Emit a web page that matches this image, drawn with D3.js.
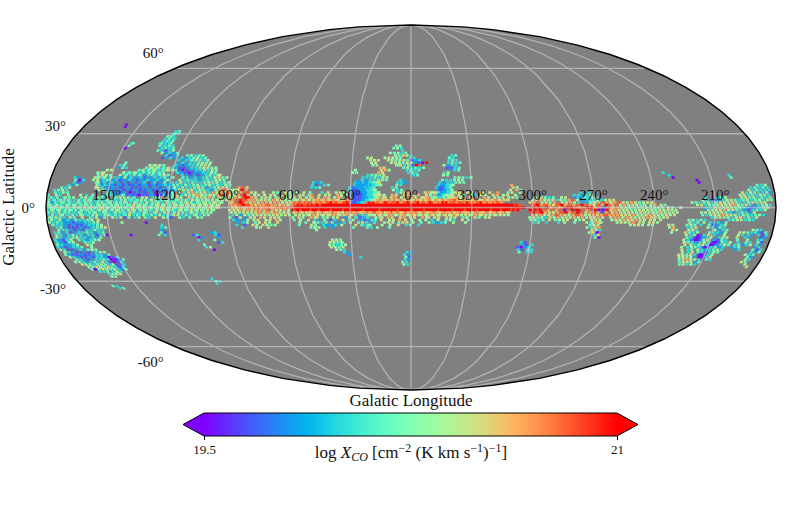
<!DOCTYPE html>
<html>
<head>
<meta charset="utf-8">
<script src="https://cdn.jsdelivr.net/npm/d3@7"></script>
<style>
body { margin: 0; background: #fff; }
text { font-family: "Liberation Serif", serif; fill: #111; }
</style>
</head>
<body>
<div id="g"></div>
<script>
// each row is [latitude, first longitude, level codes]
// one code per 1 deg of longitude going right on the map, "." = no data
var xcoLevels = [19.5, 19.67, 19.83, 20.0, 20.17, 20.33, 20.5, 20.67, 20.83, 21.0];

var planeLeft = [
  [5, 179, "34...5.3...4.....5..3..4....3...5.....4.......3.4...5...4.6..3.....5.....4...6...5...5...4."],
  [4, 179, "4.53.4..35.4.5...4.6.34..5.4.3...45.6.4.5.34...5.6..3.45.7...54.6.5...6.4.5.6.5.7.4..6.5.6"],
  [3, 179, "4.34.34.4.53.3.4.34.54.3.43.35.4.33.4.5.34.34.5.4.36.4.34.54.3.45.4.53.6.45.4.54.6.45.5.6"],
  [2, 179, "3452.43.54.34.3.54.35.43.34.53.45.34.4.54.3.54.43.5.34.54.3.64.54.35.46.53.54.65.4.56.45"],
  [1, 179, "454.35.43.54.45.34.54.63.45.54.35.45.43.54.6.45.54.34.56.45.34.65.45.64.56.45.56.65.56"],
  [0, 179, "34545.45.54.35.64.5.45.54.56.45.45.64.54.56.45.54.65.45.56.45.54.65.45.64.56.54.65.56"],
  [-1, 179, "43.54.45.34.54.4.35.44.53.46.54.35.45.43.5.64.35.54.43.5.45.64.53.45.54.6.45.54.6.45"],
  [-2, 179, "34.43.5.34.4.33.54.3.4.45.3.54.3.35.4.43.5.4.33.54.3.46.3.5.4.34.6.4.3.54.4.35.4.5"],
  [-3, 179, "3.4.3.45.33.4.3.54.33.4.5.3.4.53.4.3.34.6.3.43.5.3.4.3.5.3.4.36.5.3.4.3.45.3.4.5"],
  [-4, 179, "3.54.5.4.3..5.4...6...43.5.2.4...5.3.6.1.4..3.5..4.3..6...5.4.1...5.3..4...5.4.."]
];
var cepheus = [
  [17, 131, "5.46.5.4"],
  [16, 133, "4.56.45.34.6"],
  [15, 153, "5.6"],
  [15, 137, "4.5.34.45.3.4.56.5"],
  [14, 156, "5.46"],
  [14, 143, "5.34.45.3.4.34.5.34.4"],
  [13, 156, "4.6.5.4"],
  [13, 145, "5.34.3.4.34.2.3.43.34.5.4"],
  [12, 158, "645.45.26.3.32.5.23.2.23.12.2.3.23.4.2.5"],
  [11, 157, "5.6.23.43.2.31.2.23.2.12.2.3.22.3.2.35"],
  [10, 156, "45.23.2.32.2.12.1.2.12.23.1.23.12.4.2.3"],
  [9, 156, "53.23.2.21.2.1.21.12.1.22.1.2.12.23.2.4"],
  [8, 155, "56.3.2.12.2.11.2.21.1.12.2.1.2.21.2.3.24"],
  [7, 154, "5.63.2.21.2.11.21.2.11.12.21.1.2.1.2.2.3"],
  [6, 150, "43.2.21.2.10.1.21.11.2.10.1.2.12.1.23"],
  [5, 152, "...4.3.2.3.4.1.21.10.1.1.2.10.1.21.3.2"]
];
var cepheusFlare = [
  [31, 127, "3.4"],
  [30, 128, "34.3"],
  [29, 129, "4.53"],
  [28, 130, "3.4.33"],
  [27, 131, "3.43.4"],
  [26, 131, "34.3.34"],
  [25, 131, "4.33.4.3"],
  [24, 130, "3.4.3.4"],
  [23, 130, "4.3.1.3.5"],
  [22, 128, "5.2.3.2.4"],
  [21, 127, ".3.1.2.3."],
  [21, 115, "4.5.3.4.5"],
  [20, 126, "1.2.3.2"],
  [20, 116, "3.2.3.4.5.3.4"],
  [19, 118, "3.2.3.34.5.4.3.5"],
  [18, 118, "2.3.2.3.3.4.5.4.5"],
  [17, 118, "3.2.12.3.3.4.5.6.5"],
  [16, 120, "3.2.1.1.2.3.3.4.5.6.4.5"],
  [15, 118, "41.0.1.2.23.3.4.3.5.4"],
  [14, 116, "3.2.1.01.2.2.3.3.5.4"],
  [13, 114, "3.2.1.2.1.2.3.4.3.56"],
  [12, 114, "4.3.2.3.2.3.4.3.5.6.4.5"],
  [11, 114, "5.3.4.3.3.2.3.4.3.5.5.4"],
  [10, 116, "3.5.3.3.4.3.3.4.5.4.5.3.4.5"],
  [9, 116, "4.3.5.3.4.5.3.4.5.3.4.3.5.4"],
  [8, 116, "5.3.4.3.3.4.5.4.2.3.4.5.6.5"],
  [7, 116, "3.5.6.4.6.3.5.4.3.2.4.7.8.6.5.6"],
  [6, 118, "5.7.5.3.6.7.4.5.6.3.7.5.7.6.8.7.8"],
  [5, 118, "4.5.6.3.5.4.6.7.5.4.6.5.7.8.7.8.6"]
];
var cygnus = [
  [8, 84, "7.8.6"],
  [7, 88, ".5.6.9.7"],
  [6, 88, "5.6.7..8.6.5...6....5.4...6.5.."],
  [5, 88, "6.5.7.89.7..5.6..5..6.5...6.5.6"],
  [4, 88, "5.7.6.899.7.6..5.6.5..5.6..5.6"],
  [3, 88, "7.8.98.87.7.6.5.6.5.7.6.6.5.5.4"],
  [2, 88, "76.8.9987.6.7.6.7.7.6.7.7.5.6.6"],
  [1, 88, "7.7.8.9.8.7.6.7.7.8.7.7.6.7.5.7"],
  [0, 88, "6767.777877878778787778788788"],
  [-1, 88, "6.6.57.6.7.6.7.7.7.8.7.6.6.7.5"],
  [-2, 88, "5.6.5.6.5.6.6.7.6.7.6.7.6.5.6"],
  [-3, 88, "3.5.2.5.4.5.6.5.6.5.6.6.5.6.5"],
  [-4, 88, "4..1.5..2.5.6..7.6..6.6.5"],
  [-5, 88, ".3.2..2.5..5.6...5.6..7.5"],
  [-6, 88, "..2..3.5...4.6..6.5...6."],
  [-7, 88, "...3...1...6.5..6.5.4.5.."],
  [-8, 88, ".....3......5.5...6.."]
];
var planeInner = [
  [6, 57, "5...6..4.....3..6...5.6.4..5..7....6.5...5........3.5.6.7.......6.7.5.6..5.3.7...6...6..5..7.5..6...7....4.6...5"],
  [5, 57, "5..6.5..47...6..5.6...7.5..6.7...5.6..4.8..6.5...7.6...6.7..5.7...6.4..5.6...4.5..6.4...5.3..6.5...6.7..5.6...5"],
  [4, 57, "6..6..5.67..6..7.6..5.76..7.5..67...7..6..7.56..6.7..5.7..7.6..6.7..75..7.5..6.6..5.7..67..6..7.6..5.4.6..5.6.4"],
  [3, 57, "65.76.75.677.67.76.776.57.76.767.677.67.77.676.77.67.76.776.776.67.76.767.67.78.776.76.67.766.76.67.76.576"],
  [2, 57, "7878.7878.7787877889788778898878878878989787789878889778898788978878987787989788878887987878897787787887"],
  [1, 57, "8898988989899899999999999999999999999999999999999999999999999999999999999999999999999999999999999999999999999898"],
  [0, 57, "999999999999999999999999999999999999999999999999999999999999999999999999999999999999999999999999999999999999999999"],
  [-1, 57, "9899899998999899999899999899999999989999999899999999899999989999989999998999999899999899999899999989999899998989"],
  [-2, 57, "67.76.6767.767.7677.77676.77877.7677.77.8777.677.77.767.7787.767.7677.7767.777.677.7767.67.7767.7677.767.66"],
  [-3, 57, "5.6.5.65.7.6.56.56.7.65.67.56.76.5.76.65.76.56.7.65.67.65.76.56.65.76.65.76.56.76.5.6.65.7.56.6.5.65.6.5.5"],
  [-4, 57, "5..6.5...7.56..4.5..5.6...2.6..67..5.6...5.46..7.6...6.7..5.6...7.56..5.6...6.5.6...4.5...6.4..5.6"],
  [-5, 57, "4..5...6..3.2..4..1.3...6..3.5...5.6..7.4..6...5.6..7..6..5...5..5..3..5...4.5.3...6..4"],
  [-6, 57, "..5..4...6...3.4..4.2.2.3..5...4.6...5.6....5.6.5..4.6.6..5...4...5.3.2.3.4...5.....5...."],
  [-7, 57, "...4.......5...3.2.2.3..5......6..4...5.....5...5...6...3.4...3..."],
  [-8, 57, "........4.4....3...2.........4...........5.....4....."]
];
var carina = [
  [4, -60, "..5..6.4.3.4...5.6.....4.5.5"],
  [3, -60, "5.6.7.5.5.6.3.5.4.7.8.5.7.6.5.6.4.3.5.6.6"],
  [2, -60, "6.7.8.5.6.4.7.8.5.6.7.5.8.7.6.5.4.7.8.7.6"],
  [1, -60, "88.9.7.8.7.6.8.9.7.8.7.8.9.8.7.6.8.7.9.8"],
  [0, -60, "8989.8.9.7.8.7.8.9.9.8.7.8.9.9.7.8.1.8.7.9"],
  [-1, -60, "99.989.8.7.8.7.8.0.8.9.99.8.7.8.9.0.0.9.8"],
  [-2, -60, "89.8.9.7.6.5.7.8.9.7.8.9.8.6.7.8.7.1.7.8"],
  [-3, -60, "7.6.7.5.6.7.8.7.6.5.7.8.7.5.6.7.6.7.8.7"],
  [-4, -60, "5.6.4.5.3.6.5.7.5.6.5.7.6.7.5.6.6.7.6"],
  [-5, -60, "4.5.3.4..6..4.5.5.6...5.4.6...5.6.5"],
  [-6, -60, ".3.4...3.....3..5....4.....5.3...6"],
  [6, -84, "3.2.3"],
  [5, -82, "3.3.2.3.4"],
  [4, -82, "2.2.3.3.4.5"],
  [3, -84, "2.2.3.3.5"],
  [2, -84, "3.2.2.4.6"],
  [-6, -90, "5.7.5"],
  [-7, -90, "4.5.6"],
  [-8, -88, "5.3.6.7"],
  [-9, -90, "6.5.3"],
  [-10, -90, "5.6.0"],
  [-11, -92, "3.6"],
  [-12, -92, "4.0"]
];
var vela = [
  [2, -100, "6.7.8.6.5.7.6.4.5.6.6"],
  [1, -100, "7.8.6.7.5.6.5.4.5..5.7..6.4"],
  [0, -100, "6.7.5.5.5.4.5.5.5.4.5.5.4..5.4...5"],
  [-1, -100, "6.7.6.5.6.4.5.6.5.6.5.4.6.5.6.5.6"],
  [-2, -100, "6.7.6.5.6.5.5.6.5.5.5.5.6.5.5.5.5"],
  [-3, -100, "7.7.6.6.6.7.5.5.6.7.6.5.5.6.5.6"],
  [-4, -100, "6.7.7.5.7.6.5.5.6.7.6.6.5.5.6"],
  [-5, -100, "5.6.5.7.6.6.7.6.5..6.5..6"],
  [-6, -100, "..5.6.5.6.7..6.5..6.6.5"],
  [-7, -108, "..5.6.6.5..5.4"],
  [-7, -129, "6.5"],
  [-8, -129, "5.7"],
  [-9, -130, "6.5"],
  [-10, -131, "5"],
  [14, -128, "3"],
  [13, -130, "3"],
  [12, -131, "0"]
];
var anticentre = [
  [13, -160, "3"],
  [12, -160, "4"],
  [11, -144, "0"],
  [10, -144, "0"],
  [9, -172, "4.3.5"],
  [8, -170, "3.4.3.4.3"],
  [7, -168, "5.3.4.3.3.3"],
  [6, -164, "6.3.5.4.3.3.4.2.3"],
  [5, -164, "5.6.3.4.3.5.4.3.4"],
  [4, -146, "3...1.3.4.5.......5.6.4.5.3.4.3.4.3"],
  [3, -144, "5.3.2.1.2.3.5.6.4.3.4.5.3.4.5.3.6.4"],
  [2, -140, "5.4.3.4.5.3.4.6.5.5.6.4.3.3.5.6.4.6.5"],
  [1, -142, "5.6.3.5.4.5.6.5.6.7.5.4.6.3.2.3.4.5.3"],
  [0, -146, "3.3.5.6.5.6.5.4.5.3.2.1.2.3.4.5"],
  [-1, -146, "2.4.5.6.5.7.5.6.4.3.2.1.3.4.3.5"],
  [-2, -144, "5.6.5.6.5.6.4.3.2.3.4.3.2.5"],
  [-3, -144, "4.3.5.6.5.7.6.5.6.3.5.4.3.4.5.3"],
  [-4, -150, "3.5.6.4.5.3.5.6.3.4.3.5"],
  [-5, -158, "3.4.5.6.3.4.3"]
];
var perseus = [
  [-5, 179, "4.5.3.5.2.3.2.4.3.3.4.5..6"],
  [-6, 179, "5.3.4.3.2.2.1.2.2.3.3.4.5"],
  [-7, 176, "4.3.3.2.1.2.1.1.2.3.3.4.5"],
  [-8, 175, "3.4.2.1.1.1.2.1.2.3.4.5.6"],
  [-9, 175, "4.3.3.2.1.2.1.3.3.4.3.3"],
  [-10, 176, "3.4.2.3.1.2.3.3.4.3.2.3.4"],
  [-11, 176, "4.3.2.3.4.3.3.2.3.3.1.3.5"],
  [-12, 177, "5.3.2.3.4.5.3.3.2.3.2.4"],
  [-13, 177, "3.2.1.3.5...4.3.2.3.4.5"],
  [-14, 177, "3.2.1.4.5.....4.3.5"],
  [-15, 178, "4.3.2.2.3.5....6.4"],
  [-16, 177, "3.2.1.2.3.3.4....5"],
  [-17, 177, "4.3.1.1.2.3.2.4.5.4"],
  [-18, 176, "5.3.2.1.1.2.1.2.3.4.5"],
  [-19, 175, "4.2.1.1.2.1.1.2.3.3.2.4"],
  [-20, 174, "5.3.2.1.1.2.1.3.3.2.0.1.3"],
  [-21, 172, "4.3.2.1.2.3.3.4.3.0.0.1.4"],
  [-22, 172, "5.4.3.2.3.4.3.5.3.1.0.1.3"],
  [-23, 170, "6.5.4.3.4.5.4.3.5.1.1.3"],
  [-24, 168, "5.4.6.5.4.6.4.3.1.3"],
  [-25, 166, "4.0.5.6.5.4.5.3.2.4"],
  [-26, 163, "3.3.4..3.5.3"],
  [-27, 160, "3.4.5.6"],
  [-28, 158, "5.4"],
  [-32, 162, "4.3"],
  [-33, 160, "3.4"]
];
var northBits = [
  [34, 157, "0"],
  [33, 157, "0"],
  [26, 146, "34"],
  [25, 147, "4"],
  [24, 149, "0"],
  [18, 145, "4"],
  [17, 146, "3.4"],
  [16, 147, "2.4.3"],
  [12, 168, "3.2"],
  [11, 166, "4.0.3"],
  [10, 167, "3.1.2"],
  [9, 170, "3.2.4"],
  [8, 172, "4.3.5"],
  [7, 176, "3.4.5.3"],
  [6, 176, "4.3.5.4"]
];
var southBits = [
  [-6, 143, "5"],
  [-6, 131, "0"],
  [-7, 122, "3"],
  [-8, 123, "3.4"],
  [-9, 124, "2"],
  [-10, 123, "4.1"],
  [-11, 151, "0"],
  [-11, 139, "0"],
  [-11, 125, "4"],
  [-11, 122, "3"],
  [-11, 108, "1.3"],
  [-12, 106, "0.2"],
  [-13, 105, "3"],
  [-15, 104, "4"],
  [-16, 102, "3.5"],
  [-10, 98, "2.3"],
  [-11, 97, "3.1"],
  [-12, 96, "2"],
  [-13, 97, "4"],
  [-14, 96, "1.3"],
  [-17, 99, "0"],
  [-29, 106, "3"],
  [-30, 105, "4.3"],
  [-31, 104, "3"]
];
var aquila = [
  [13, 21, "3.4.5.4.6"],
  [12, 24, "3.3.3.4.3.5.5"],
  [11, 25, "2.3.2.3.3.4.5.4"],
  [10, 27, "3222322334456"],
  [9, 28, "32222223233445"],
  [8, 29, "3212222232334"],
  [7, 30, "32111222233345"],
  [6, 30, "321111222333445"],
  [5, 30, "6211111122333456"],
  [4, 31, "7921111122233345"],
  [3, 30, "8211112233446"],
  [2, 28, "2112233"],
  [-3, 26, "2.3.3.4"],
  [-4, 26, "3.1.2.3"],
  [-5, 24, "2.1.2.3"],
  [-6, 22, "3.2.3"],
  [-7, 22, "3.4"],
  [-8, 21, "4.3"],
  [10, 48, "3.2.3"],
  [9, 49, "3.1.2.3.4"],
  [8, 48, "3.3.4"],
  [-6, 48, "5.4"],
  [-7, 48, "6.4"],
  [-8, 47, "5.5"],
  [-9, 47, "5"],
  [20, 21, "5.6"],
  [19, 20, "6.5.6"],
  [18, 20, "5.6"],
  [17, 18, "5.4"],
  [16, 15, "7.6"],
  [15, 28, "5"],
  [15, 15, "6.7.5"],
  [14, 28, "5.4"],
  [14, 15, "7.6"]
];
var ophiuchus = [
  [25, 7, "4.5"],
  [24, 9, "4.5.3"],
  [23, 3, "3"],
  [22, 10, "5.4.5.3.4"],
  [21, 8, "5.4.6.5.3"],
  [20, 12, "5.6.5.5.4"],
  [20, -1, "3.3"],
  [19, 11, "6.5.4.5.6.4.1.2.3"],
  [18, 10, "5.6.5.4.6.5.2.1.0.9"],
  [17, 6, "546.3.4.1.9.8"],
  [16, 3, "4.5.3.4.3.5"],
  [15, 2, "3.4.3.4"],
  [14, 0, "3.4.3"],
  [13, -2, "3.4"],
  [11, 4, "3.2"],
  [10, 6, "3.3.2"],
  [9, 7, "4.3"],
  [8, 8, "3.4"],
  [7, 8, "5.3.4"]
];
var lupus = [
  [21, -21, "3.4"],
  [20, -21, "4.3"],
  [19, -20, "3.4.3"],
  [18, -19, "3.4.3.4"],
  [17, -18, "5.2.3.3"],
  [16, -19, "1.1.3.4"],
  [15, -20, "2.3.4"],
  [14, -18, "3.5"],
  [13, -17, "5.4"],
  [12, -22, "4.5.4.3.5"],
  [11, -17, "4.3.3.4.5.4"],
  [10, -15, "3.2.3.3.4.5.4"],
  [9, -14, "32223345"],
  [8, -14, "32112334"],
  [7, -14, "21122335"],
  [6, -10, "5.6.322233456"],
  [5, -9, "6.4.7322345.6"],
  [4, -7, "6.7.4.5.3.4.5.6.7.5"],
  [9, -50, "7"],
  [8, -52, "6.5"],
  [7, -50, "6..7.5"]
];
var southInner = [
  [-13, 38, "5.6.4"],
  [-14, 40, "6.5.4.5"],
  [-15, 41, "5.4.3.4.5"],
  [-16, 39, "6.5.4.6"],
  [-17, 37, "5.4.3"],
  [-18, 34, "3.2"],
  [-19, 30, "2"],
  [-20, 25, "3"],
  [-18, 2, "3.2"],
  [-19, 2, "3.2"],
  [-20, 2, "4.1"],
  [-21, 3, "3.2"],
  [-22, 3, "4.3"],
  [-23, 3, "5.3"],
  [-14, -56, "3.1"],
  [-15, -56, "2.1..3"],
  [-16, -55, "1.0.2.3"],
  [-17, -55, "3.1..4.3"],
  [-18, -55, "4...3.3"]
];
var orion = [
  [-5, -138, "4.5.3.4.3"],
  [-6, -138, "5.3.4..5..3.2.3.2.4"],
  [-7, -138, "4.5.4..3...4.1.2.3.5"],
  [-8, -138, "3.4.6.....5.3.2.4.3"],
  [-9, -138, "5.6.3........5.2.3.4"],
  [-10, -138, "6.4.3.5.....4.3.3.2.5"],
  [-11, -138, "5.3.4.01.3.6..3.2..5"],
  [-12, -138, "4.3.10012.3.5...3.5.6"],
  [-13, -138, "6.3.21001.4.6..2.1.4.3"],
  [-14, -138, "5.4.3.2.3.5.3.1001.4.3.5"],
  [-15, -138, "6..5.3.4.6.3.0012.3.5.4"],
  [-16, -138, "5..3.5.4.3.101.3.4.2.3"],
  [-17, -138, "6..3.4..5.3.2.3.4.5.3"],
  [-18, -138, "5..3.6..4.3.1.3.5.4"],
  [-19, -138, "6.5.4.6.3.1001.3.5"],
  [-20, -138, "5.6.4.5.2.000.3.6"],
  [-21, -138, "4.6.7.5.6.3.1.4.3"],
  [-22, -138, "..4.5.6.5.2.4.."],
  [-23, -140, "4.6.3.5.3"]
];
var monoceros = [
  [-9, -170, "5.4.3"],
  [-10, -165, "6.5.4.3.4"],
  [-11, -164, "5.3..3.2"],
  [-12, -163, "6...3.2"],
  [-13, -165, "4....5"],
  [-14, -165, "3...4.3"],
  [-15, -163, "3.4.2.3.5"],
  [-16, -163, "2.3.4"],
  [-17, -165, "2.3"],
  [-10, -174, "2.1.4"],
  [-11, -174, "3.1.3"],
  [-12, -175, "1.2"],
  [-13, -175, "3.3"],
  [-14, -175, "4.1"],
  [-15, -174, "3.2"],
  [-16, -175, "2.3"],
  [-17, -174, "4.1.3"],
  [-18, -173, "3.2.4"],
  [-19, -172, "5.3.4"],
  [-20, -173, "4.2"],
  [-21, -172, "5.3"],
  [-22, -172, "6.4"],
  [-23, -174, "5"],
  [-24, -175, "6"]
];
var skyRegions = [planeLeft, cepheus, cepheusFlare, cygnus, planeInner, carina, vela, anticentre,
  perseus, northBits, southBits, aquila, ophiuchus, lupus, southInner, orion, monoceros];

var gridLons = [-150, -120, -90, -60, -30, 0, 30, 60, 90, 120, 150];
var gridLats = [-60, -30, 0, 30, 60];
var lonLabels = [150, 120, 90, 60, 30, 0, 330, 300, 270, 240, 210];
var latLabels = [60, 30, 0, -30, -60];
var cbarTicks = [19.5, 21];

var WIDTH = 806, HEIGHT = 507;
var STEP_LON = 1;
var CELL_LON = 1.5, CELL_LAT = 1.05;

function mollweideRaw(lambda, phi) {
  var target = Math.PI * Math.sin(phi), theta = phi;
  for (var i = 0; i < 30; i++) {
    var d = (2 * theta + Math.sin(2 * theta) - target) / (2 + 2 * Math.cos(2 * theta) + 1e-9);
    theta -= d;
    if (Math.abs(d) < 1e-7) break;
  }
  return [2 * Math.SQRT2 / Math.PI * lambda * Math.cos(theta), Math.SQRT2 * Math.sin(theta)];
}

// matplotlib's rainbow
function rainbow(t) {
  var r = Math.abs(2 * t - 0.5), g = Math.sin(Math.PI * t), b = Math.cos(Math.PI * t / 2);
  return d3.rgb(Math.min(1, r) * 255, g * 255, b * 255).formatHex();
}

// rows are staggered like healpix rings, otherwise gaps line up in columns
function rowShift(lat) {
  return ((lat % 3 + 3) % 3) * 0.66;
}

var projection = d3.geoProjection(mollweideRaw)
  .reflectX(true)
  .scale(129.05)
  .translate([411, 207.5]);
var path = d3.geoPath(projection);

var color = d3.scaleSequential(rainbow).domain([19.5, 21]).clamp(true);

var cells = [];
skyRegions.forEach(function(region) {
  region.forEach(function(row) {
    row[2].split("").forEach(function(code, i) {
      if (code === ".") return;
      cells.push({ lat: row[0], lon: row[1] - i * STEP_LON, value: xcoLevels[+code] });
    });
  });
});

var svg = d3.select("#g").append("svg")
  .attr("width", WIDTH)
  .attr("height", HEIGHT)
  .style("display", "block");

svg.append("clipPath").attr("id", "sky")
  .append("path").attr("d", path({ type: "Sphere" }));

svg.append("path")
  .attr("d", path({ type: "Sphere" }))
  .attr("fill", "#808080");

// edges past +-180 would wrap round to the far side of the map
var clampLon = d3.scaleLinear().domain([-179.9, 179.9]).range([-179.9, 179.9]).clamp(true);
var cellLine = d3.line();
svg.append("g")
  .attr("clip-path", "url(#sky)")
  .selectAll("path")
  .data(cells.filter(function(d) { return Math.abs(d.lon) < 180; }))
  .enter()
  .append("path")
  .attr("d", function(d) {
    var lon = d.lon + rowShift(d.lat);
    var x0 = clampLon(lon - CELL_LON / 2), x1 = clampLon(lon + CELL_LON / 2);
    var y0 = d.lat - CELL_LAT / 2, y1 = d.lat + CELL_LAT / 2;
    return cellLine([[x0, y0], [x1, y0], [x1, y1], [x0, y1]].map(function(p) { return projection(p); })) + "Z";
  })
  .attr("fill", function(d) { return color(d.value); });

// parallels need many points or geoPath draws them as great arcs
var gridLines = gridLons.map(function(lon) {
  return [[lon, -90], [lon, 0], [lon, 90]];
}).concat(gridLats.map(function(lat) {
  return d3.range(-180, 180.1, 2).map(function(lon) { return [lon, lat]; });
}));

svg.append("path")
  .attr("d", path({ type: "MultiLineString", coordinates: gridLines }))
  .attr("fill", "none")
  .attr("stroke", "#d3d3d3")
  .attr("stroke-opacity", 0.6)
  .attr("stroke-width", 1.3);

svg.append("path")
  .attr("d", path({ type: "Sphere" }))
  .attr("fill", "none")
  .attr("stroke", "#000")
  .attr("stroke-width", 1.4);

svg.append("g").selectAll("text")
  .data(lonLabels)
  .enter()
  .append("text")
  .attr("x", function(d) { return projection([d, 0])[0]; })
  .attr("y", 200)
  .attr("text-anchor", "middle")
  .attr("font-size", 15)
  .text(function(d) { return d + "\u00b0"; });

svg.append("g").selectAll("text")
  .data(latLabels)
  .enter()
  .append("text")
  .attr("x", function(d) { return projection([180, d])[0] - 11; })
  .attr("y", function(d) { return projection([180, d])[1] - d * 0.25 + 5; })
  .attr("text-anchor", "end")
  .attr("font-size", 15)
  .text(function(d) { return d + "\u00b0"; });

svg.append("text")
  .attr("transform", "translate(14,207) rotate(-90)")
  .attr("text-anchor", "middle")
  .attr("font-size", 17)
  .text("Galactic Latitude");

svg.append("text")
  .attr("x", 411)
  .attr("y", 406)
  .attr("text-anchor", "middle")
  .attr("font-size", 17)
  .text("Galatic Longitude");

/* ------------colorbar----------------- */
var cbarX = d3.scaleLinear().domain([19.5, 21]).range([204, 617]);
var cbarTop = 413, cbarBottom = 436, cbarTip = 21;

var grad = svg.append("defs").append("linearGradient").attr("id", "rainbow");
grad.selectAll("stop")
  .data(d3.range(0, 1.0001, 1 / 32))
  .enter()
  .append("stop")
  .attr("offset", function(d) { return d; })
  .attr("stop-color", function(d) { return rainbow(d); });

var x0 = cbarX.range()[0], x1 = cbarX.range()[1], yMid = (cbarTop + cbarBottom) / 2;
svg.append("rect")
  .attr("x", x0).attr("y", cbarTop)
  .attr("width", x1 - x0).attr("height", cbarBottom - cbarTop)
  .attr("fill", "url(#rainbow)");
svg.append("path")
  .attr("d", d3.line()([[x0, cbarTop], [x0 - cbarTip, yMid], [x0, cbarBottom]]) + "Z")
  .attr("fill", rainbow(0));
svg.append("path")
  .attr("d", d3.line()([[x1, cbarTop], [x1 + cbarTip, yMid], [x1, cbarBottom]]) + "Z")
  .attr("fill", rainbow(1));
svg.append("path")
  .attr("d", d3.line()([[x0, cbarTop], [x1, cbarTop], [x1 + cbarTip, yMid], [x1, cbarBottom],
    [x0, cbarBottom], [x0 - cbarTip, yMid]]) + "Z")
  .attr("fill", "none")
  .attr("stroke", "#000")
  .attr("stroke-width", 1);

var cbarAxis = svg.append("g")
  .attr("transform", "translate(0," + cbarBottom + ")")
  .call(d3.axisBottom(cbarX).tickValues(cbarTicks).tickSize(4).tickPadding(5)
    .tickFormat(function(d) { return String(d); }));
cbarAxis.select(".domain").remove();
cbarAxis.selectAll("text")
  .attr("font-size", 13)
  .style("font-family", '"Liberation Serif", serif');

var label = svg.append("text")
  .attr("x", 411)
  .attr("y", 458)
  .attr("text-anchor", "middle")
  .attr("font-size", 17);
label.append("tspan").text("log ");
label.append("tspan").attr("font-style", "italic").text("X");
label.append("tspan").attr("font-style", "italic").attr("font-size", 12).attr("dy", 2.5).text("CO");
label.append("tspan").attr("dy", -2.5).text(" [cm");
label.append("tspan").attr("font-size", 12).attr("dy", -6).text("\u22122");
label.append("tspan").attr("dy", 6).text(" (K km s");
label.append("tspan").attr("font-size", 12).attr("dy", -6).text("\u22121");
label.append("tspan").attr("dy", 6).text(")");
label.append("tspan").attr("font-size", 12).attr("dy", -6).text("\u22121");
label.append("tspan").attr("dy", 6).text("]");
</script>
</body>
</html>
